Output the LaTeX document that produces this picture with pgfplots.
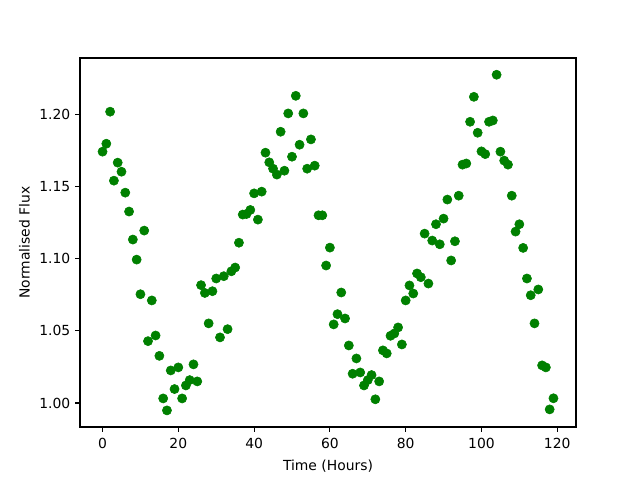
\documentclass[border=0pt]{standalone}
\usepackage{pgfplots}
\pgfplotsset{compat=1.18}
\usepackage{fontspec}
\setmainfont{DejaVu Sans}
\definecolor{mplgreen}{RGB}{0,128,0}
\begin{document}
\begin{tikzpicture}
\begin{axis}[
  scale only axis,
  width=357.12pt, height=265.68pt,
  xmin=-5.95, xmax=124.95,
  ymin=0.9834, ymax=1.2391,
  xtick={0,20,40,60,80,100,120},
  ytick={1.00,1.05,1.10,1.15,1.20},
  yticklabel style={/pgf/number format/.cd,fixed,fixed zerofill,precision=2},
  /pgf/number format/assume math mode=true,
  tick align=outside,
  major tick length=3.5pt,
  every tick/.style={black, line width=0.8pt},
  axis line style={line width=0.8pt},
  tick label style={font=\fontsize{10}{12}\selectfont},
  xticklabel style={yshift=-1pt},
  label style={font=\fontsize{10}{12}\selectfont},
  xtick pos=bottom, ytick pos=left,
  xlabel={Time (Hours)},
  ylabel={Normalised Flux},
  xlabel style={yshift=-1pt},
  ylabel style={yshift=0pt},
]
\addplot[only marks, mark=*, mark size=3.3pt, mplgreen, mark options={draw=mplgreen, fill=mplgreen}] table {
x y
0 1.1742
1 1.1797
2 1.2019
3 1.1541
4 1.1666
5 1.1603
6 1.1458
7 1.1327
8 1.1133
9 1.0994
10 1.0754
11 1.1195
12 1.0429
13 1.0711
14 1.0468
15 1.0327
16 1.0032
17 0.9949
18 1.0226
19 1.0097
20 1.0247
21 1.0032
22 1.0122
23 1.0159
24 1.0268
25 1.0150
26 1.0817
27 1.0763
28 1.0552
29 1.0775
30 1.0863
31 1.0455
32 1.0879
33 1.0512
34 1.0913
35 1.0939
36 1.1111
37 1.1306
38 1.1310
39 1.1338
40 1.1453
41 1.1271
42 1.1465
43 1.1735
44 1.1668
45 1.1624
46 1.1583
47 1.1880
48 1.1610
49 1.2007
50 1.1707
51 1.2129
52 1.1790
53 1.2007
54 1.1624
55 1.1827
56 1.1645
57 1.1301
58 1.1301
59 1.0953
60 1.1077
61 1.0545
62 1.0616
63 1.0766
64 1.0586
65 1.0399
66 1.0203
67 1.0309
68 1.0212
69 1.0122
70 1.0159
71 1.0194
72 1.0026
73 1.0150
74 1.0365
75 1.0344
76 1.0466
77 1.0482
78 1.0524
79 1.0406
80 1.0711
81 1.0815
82 1.0759
83 1.0898
84 1.0872
85 1.1174
86 1.0828
87 1.1126
88 1.1239
89 1.1100
90 1.1278
91 1.1410
92 1.0988
93 1.1121
94 1.1437
95 1.1652
96 1.1660
97 1.1949
98 1.2122
99 1.1873
100 1.1744
101 1.1725
102 1.1949
103 1.1958
104 1.2275
105 1.1742
106 1.1680
107 1.1652
108 1.1437
109 1.1188
110 1.1239
111 1.1075
112 1.0863
113 1.0747
114 1.0552
115 1.0787
116 1.0261
117 1.0247
118 0.9956
119 1.0033
};
\end{axis}
\path (current axis.south west) ++(-57.6pt,-38.16pt) rectangle ([xshift=46.08pt,yshift=41.76pt]current axis.north east);
\end{tikzpicture}
\end{document}
